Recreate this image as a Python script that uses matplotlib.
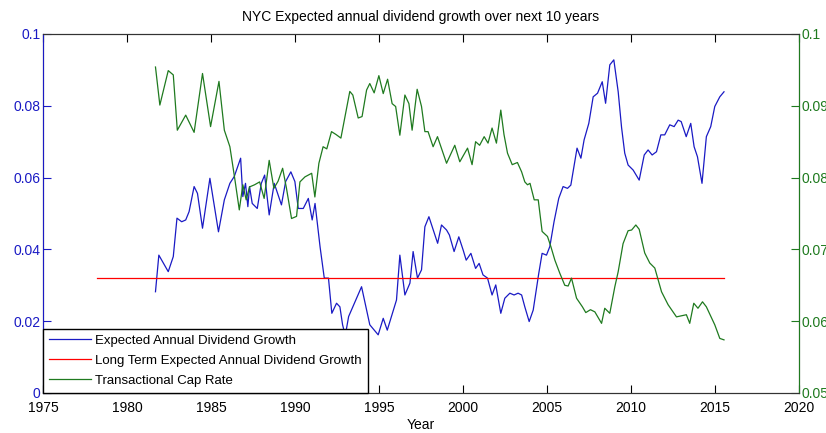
import matplotlib
matplotlib.use("Agg")
import matplotlib.pyplot as plt

plt.rcParams["font.family"] = ["Liberation Sans", "DejaVu Sans"]

title = "NYC Expected annual dividend growth over next 10 years"

blue_years = [1981.7, 1981.9, 1982.46, 1982.76, 1982.98, 1983.26, 1983.5, 1983.7, 1984.0, 1984.2,
              1984.5, 1984.94, 1985.45, 1985.8, 1986.13, 1986.39, 1986.77, 1986.9, 1987.06, 1987.2,
              1987.3, 1987.46, 1987.76, 1988.0, 1988.2, 1988.47, 1988.77, 1989.2, 1989.45, 1989.76,
              1990.0, 1990.2, 1990.5, 1990.8, 1991.03, 1991.2, 1991.5, 1991.75, 1992.0, 1992.2,
              1992.48, 1992.68, 1992.84, 1993.0, 1993.2, 1993.97, 1994.46, 1994.96, 1995.26, 1995.5,
              1996.05, 1996.25, 1996.55, 1996.85, 1997.04, 1997.3, 1997.54, 1997.74, 1997.98, 1998.5,
              1998.73, 1999.03, 1999.2, 1999.48, 1999.76, 2000.02, 2000.2, 2000.48, 2000.76, 2000.97,
              2001.2, 2001.47, 2001.74, 2001.96, 2002.26, 2002.5, 2002.8, 2003.05, 2003.29, 2003.5,
              2003.69, 2003.95, 2004.19, 2004.52, 2004.72, 2004.98, 2005.18, 2005.43, 2005.71, 2005.97,
              2006.23, 2006.43, 2006.8, 2007.03, 2007.22, 2007.5, 2007.76, 2008.02, 2008.3, 2008.5,
              2008.75, 2008.99, 2009.25, 2009.45, 2009.64, 2009.84, 2010.14, 2010.5, 2010.8, 2011.03,
              2011.27, 2011.53, 2011.79, 2012.02, 2012.32, 2012.58, 2012.82, 2013.0, 2013.3, 2013.57,
              2013.77, 2013.97, 2014.24, 2014.5, 2014.76, 2015.0, 2015.3, 2015.55]
blue_vals = [0.0282, 0.0384, 0.0338, 0.038, 0.0487, 0.0477, 0.0482, 0.0505, 0.0575, 0.0556,
             0.0459, 0.0598, 0.0449, 0.0538, 0.0584, 0.0603, 0.0654, 0.0547, 0.0584, 0.0519,
             0.0575, 0.0528, 0.0514, 0.0584, 0.0607, 0.0496, 0.0584, 0.0524, 0.0589, 0.0616,
             0.0589, 0.0514, 0.0514, 0.0542, 0.0482, 0.0528, 0.0407, 0.032, 0.032, 0.0222,
             0.025, 0.024, 0.019, 0.016, 0.0213, 0.0296, 0.019, 0.0162, 0.0208, 0.0175,
             0.0259, 0.0384, 0.0273, 0.0306, 0.0394, 0.032, 0.0343, 0.0463, 0.0491, 0.0417,
             0.0468, 0.0454, 0.044, 0.0394, 0.0435, 0.0398, 0.037, 0.0389, 0.0347, 0.0361,
             0.0329, 0.032, 0.0273, 0.0301, 0.0222, 0.0264, 0.0278, 0.0273, 0.0278, 0.0273,
             0.024, 0.0199, 0.0231, 0.0333, 0.0389, 0.0384, 0.0408, 0.0477, 0.0542, 0.0575,
             0.057, 0.0579, 0.0682, 0.0654, 0.0705, 0.0751, 0.0825, 0.0835, 0.0867, 0.0807,
             0.0914, 0.0928, 0.0839, 0.074, 0.0668, 0.0635, 0.0621, 0.0593, 0.0663, 0.0677,
             0.0663, 0.0672, 0.0719, 0.0719, 0.0747, 0.0742, 0.076, 0.0756, 0.0714, 0.0751,
             0.0686, 0.0658, 0.0584, 0.0714, 0.0742, 0.0798, 0.0825, 0.0839]

green_years = [1981.7, 1981.96, 1982.46, 1982.76, 1983.0, 1983.5, 1984.0, 1984.5, 1984.98, 1985.48,
               1985.8, 1986.13, 1986.43, 1986.69, 1986.9, 1987.1, 1987.3, 1987.6, 1987.9, 1988.17,
               1988.47, 1988.75, 1989.0, 1989.27, 1989.5, 1989.8, 1990.1, 1990.3, 1990.6, 1991.0,
               1991.19, 1991.43, 1991.68, 1991.9, 1992.18, 1992.45, 1992.74, 1993.27, 1993.45, 1993.77,
               1994.0, 1994.27, 1994.46, 1994.72, 1995.0, 1995.26, 1995.52, 1995.79, 1996.0, 1996.25,
               1996.55, 1996.79, 1996.98, 1997.28, 1997.54, 1997.74, 1997.93, 1998.23, 1998.49, 1999.03,
               1999.52, 1999.82, 2000.28, 2000.55, 2000.76, 2001.0, 2001.27, 2001.5, 2001.74, 2002.0,
               2002.26, 2002.45, 2002.66, 2002.94, 2003.25, 2003.5, 2003.69, 2003.85, 2004.0, 2004.25,
               2004.49, 2004.72, 2005.04, 2005.24, 2005.48, 2005.77, 2006.07, 2006.27, 2006.47, 2006.77,
               2007.12, 2007.32, 2007.6, 2007.86, 2008.26, 2008.45, 2008.75, 2009.05, 2009.25, 2009.54,
               2009.84, 2010.05, 2010.3, 2010.5, 2010.83, 2011.13, 2011.43, 2011.83, 2012.22, 2012.72,
               2013.31, 2013.51, 2013.75, 2014.0, 2014.27, 2014.5, 2015.0, 2015.3, 2015.55]
green_vals = [0.0954, 0.0901, 0.0949, 0.0943, 0.0866, 0.0887, 0.0863, 0.0945, 0.0871, 0.0934,
              0.0866, 0.0843, 0.0797, 0.0755, 0.079, 0.0769, 0.0787, 0.079, 0.0794, 0.0771,
              0.0824, 0.0785, 0.0795, 0.0813, 0.0785, 0.0743, 0.0746, 0.0794, 0.0801, 0.0806,
              0.0773, 0.082, 0.0843, 0.084, 0.0864, 0.086, 0.0855, 0.092, 0.0915, 0.0883,
              0.0885, 0.0922, 0.0931, 0.0918, 0.0942, 0.0917, 0.0937, 0.0903, 0.0899, 0.0859,
              0.0915, 0.0903, 0.0866, 0.0923, 0.0899, 0.0864, 0.0864, 0.0843, 0.0857, 0.082,
              0.0845, 0.0822, 0.0841, 0.0818, 0.085, 0.0845, 0.0857, 0.0848, 0.0869, 0.0848,
              0.0894, 0.086, 0.0834, 0.0818, 0.0821, 0.0808, 0.0794, 0.079, 0.0792, 0.0769,
              0.0769, 0.0725, 0.0718, 0.0704, 0.0685, 0.0667, 0.065, 0.0649, 0.066, 0.0632,
              0.062, 0.0612, 0.0616, 0.0613, 0.0597, 0.0618, 0.0611, 0.0648, 0.0669, 0.0708,
              0.0726, 0.0727, 0.0734, 0.0728, 0.0695, 0.0681, 0.0674, 0.0641, 0.0623, 0.0606,
              0.0609, 0.0597, 0.0625, 0.0618, 0.0627, 0.062, 0.0595, 0.0576, 0.0574]

long_term_years = [1978.2, 2015.55]
long_term_vals = [0.032, 0.032]

blue = "#1a1ac4"
green = "#1f7a1f"

fig = plt.figure(figsize=(8.26, 4.33), dpi=100)
ax = fig.add_axes([0.052, 0.0924, 0.915, 0.8291])
ax2 = ax.twinx()

l1, = ax.plot(blue_years, blue_vals, color=blue, lw=0.9, label="Expected Annual Dividend Growth")
l2, = ax.plot(long_term_years, long_term_vals, color="red", lw=0.9,
              label="Long Term Expected Annual Dividend Growth")
l3, = ax2.plot(green_years, green_vals, color=green, lw=0.9, label="Transactional Cap Rate")

ax.set_xlim(1975, 2020)
ax.set_ylim(0, 0.1)
ax2.set_ylim(0.05, 0.1)
ax.set_xticks(range(1975, 2021, 5))
ax.set_yticks([0, 0.02, 0.04, 0.06, 0.08, 0.1])
ax.set_yticklabels(["0", "0.02", "0.04", "0.06", "0.08", "0.1"])
ax2.set_yticks([0.05, 0.06, 0.07, 0.08, 0.09, 0.1])
ax2.set_yticklabels(["0.05", "0.06", "0.07", "0.08", "0.09", "0.1"])

fs = 10
ax.tick_params(axis="x", direction="in", length=6, top=True, labelsize=fs, colors="black", pad=6)
ax.tick_params(axis="y", direction="in", length=6, labelsize=fs, colors=blue, pad=2)
ax2.tick_params(axis="y", direction="in", length=6, labelsize=fs, colors=green, pad=2)
for s in ["top", "bottom"]:
    ax.spines[s].set_color("#333333")
ax2.spines["left"].set_color(blue)
ax2.spines["right"].set_color(green)
ax2.spines["top"].set_color("#333333")
ax2.spines["bottom"].set_color("#333333")

ax.set_xlabel("Year", fontsize=fs, labelpad=2)
ax.set_title(title, fontsize=fs, pad=9)

leg = ax2.legend(handles=[l1, l2, l3], loc="lower left", borderaxespad=0, fontsize=9.5,
                 fancybox=False, framealpha=1, edgecolor="black", handlelength=3.2,
                 handletextpad=0.3, borderpad=0.45, labelspacing=0.6)
leg.get_frame().set_linewidth(1.0)

fig.savefig("out.png", dpi=100)
